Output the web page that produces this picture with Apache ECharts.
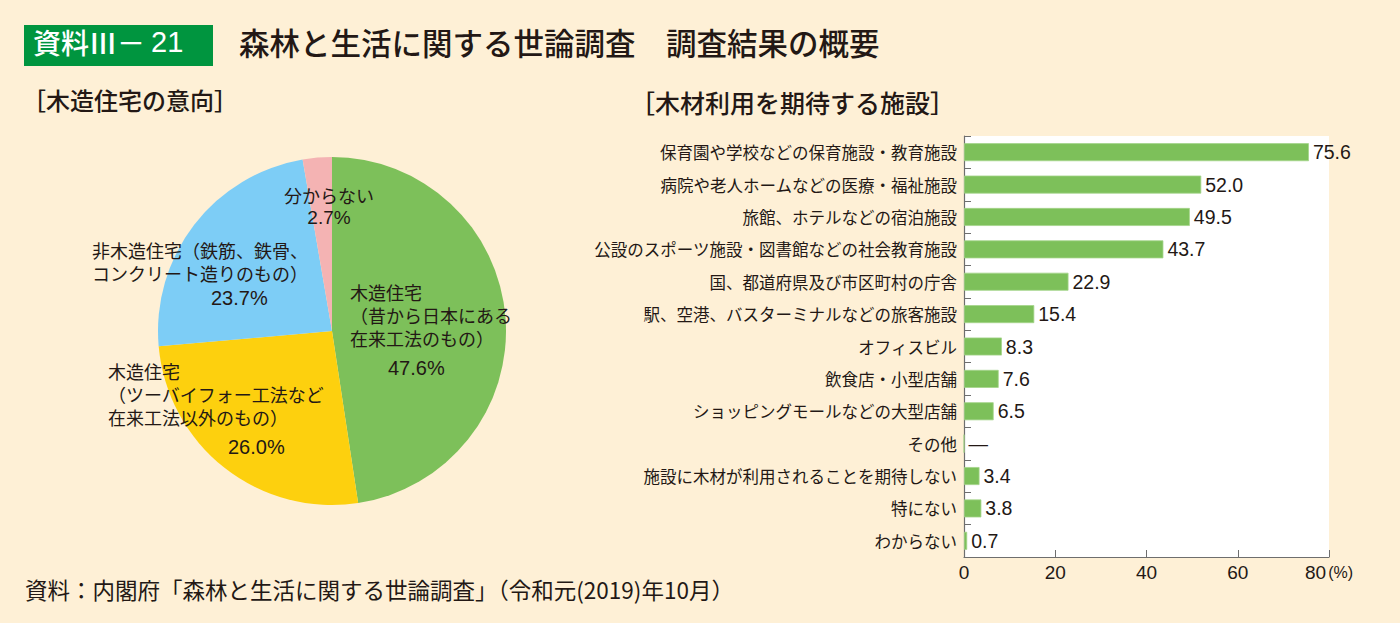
<!DOCTYPE html>
<html>
<head>
<meta charset="utf-8">
<script src="https://cdn.jsdelivr.net/npm/echarts@6/dist/echarts.min.js"></script>
<style>
html,body{margin:0;padding:0;background:#fef0d6;}
#main{width:1400px;height:623px;}
</style>
</head>
<body>
<div id="main"></div>
<script>
// ---- data ----
const pieNames = [
  '木造住宅\n（昔から日本にある\n在来工法のもの）',
  '木造住宅\n（ツーバイフォー工法など\n在来工法以外のもの）',
  '非木造住宅（鉄筋、鉄骨、\nコンクリート造りのもの）',
  '分からない'
];
const pieValues = [47.6, 26.0, 23.7, 2.7];

const barCategories = [
  '保育園や学校などの保育施設・教育施設',
  '病院や老人ホームなどの医療・福祉施設',
  '旅館、ホテルなどの宿泊施設',
  '公設のスポーツ施設・図書館などの社会教育施設',
  '国、都道府県及び市区町村の庁舎',
  '駅、空港、バスターミナルなどの旅客施設',
  'オフィスビル',
  '飲食店・小型店舗',
  'ショッピングモールなどの大型店舗',
  'その他',
  '施設に木材が利用されることを期待しない',
  '特にない',
  'わからない'
];
const barValues = [75.6, 52.0, 49.5, 43.7, 22.9, 15.4, 8.3, 7.6, 6.5, null, 3.4, 3.8, 0.7];
const xTicks = [0, 20, 40, 60, 80];

// ---- styles ----
const JP = "'Noto Sans CJK JP', sans-serif";
const NUM = "'Liberation Sans', Arial, sans-serif";
const TXT = '#231815';
const pieColors = ['#7dc05a', '#fdd00e', '#7dcdf6', '#f4b3b3'];
// label block [x, y(top), align], percent line style
const pieLabelPos = [[350, 280, 'left'], [108, 359, 'left'], [92, 238, 'left'], [329, 183, 'center']];
const pctStyle = [
  {padding: [0, 0, 0, 38], lineHeight: 37},
  {padding: [0, 0, 0, 120], lineHeight: 37},
  {padding: [0, 0, 0, 119], lineHeight: 27},
  {lineHeight: 22, align: 'center'}
];

const chart = echarts.init(document.getElementById('main'), null, {renderer: 'svg'});

const pieData = pieValues.map((v, i) => {
  const nameRich = {fontFamily: JP, fontSize: 18, lineHeight: 23, color: TXT};
  if (i === 3) nameRich.align = 'center';
  const pRich = Object.assign({fontFamily: NUM, fontSize: i === 3 ? 19 : 20, color: TXT}, pctStyle[i]);
  return {
    value: v,
    name: pieNames[i],
    itemStyle: {color: pieColors[i]},
    label: {
      formatter: (p) => p.name.split('\n').map(s => '{n|' + s + '}').join('\n') + '\n{p|' + p.value.toFixed(1) + '%}',
      rich: {n: nameRich, p: pRich}
    }
  };
});

const barData = barValues.map(v => v === null ? {value: 0, label: {formatter: '—'}} : v);

const option = {
  backgroundColor: '#fef0d6',
  animation: false,
  graphic: [
    {type: 'rect', left: 24, top: 25, shape: {width: 189, height: 41}, style: {fill: '#00953f'}},
    {type: 'text', left: 33, top: 27, style: {
      text: '{a|資料Ⅲ－}{b|21}', fill: '#ffffff',
      rich: {a: {fontFamily: JP, fontSize: 28, fontWeight: 500, fill: '#ffffff'}, b: {fontFamily: NUM, fontSize: 29, fill: '#ffffff', padding: [0, 0, 0, 6]}}
    }},
    {type: 'text', left: 239, top: 27, style: {text: '森林と生活に関する世論調査　調査結果の概要', fill: TXT, font: "500 30.5px 'Noto Sans CJK JP', sans-serif"}},
    {type: 'text', left: 22, top: 87, style: {text: '［木造住宅の意向］', fill: TXT, font: "500 24px 'Noto Sans CJK JP', sans-serif"}},
    {type: 'text', left: 630, top: 89, style: {text: '［木材利用を期待する施設］', fill: TXT, font: "500 25px 'Noto Sans CJK JP', sans-serif"}},
    {type: 'text', left: 25, top: 578, style: {text: '資料：内閣府「森林と生活に関する世論調査」（令和元(2019)年10月）', fill: TXT, font: "22.5px 'Noto Sans CJK JP', sans-serif"}}
  ],
  grid: {left: 964, right: 71, top: 136, bottom: 66, show: true, backgroundColor: '#ffffff', borderWidth: 0},
  xAxis: {
    type: 'value', min: 0, max: 80, interval: 20,
    axisLine: {show: true, lineStyle: {color: '#6e6e6e', width: 1.2}},
    axisTick: {show: true, inside: true, length: 7, lineStyle: {color: '#6e6e6e'}},
    splitLine: {show: false},
    axisLabel: {
      margin: 6, fontSize: 19, fontFamily: NUM, color: TXT,
      formatter: (v) => v === xTicks[xTicks.length - 1] ? v + '{u|(%)}' : String(v),
      rich: {u: {fontSize: 16, fontFamily: NUM, color: TXT, padding: [0, 0, 0, 2]}}
    }
  },
  yAxis: {
    type: 'category', inverse: true, data: barCategories,
    axisLine: {show: true, lineStyle: {color: '#6e6e6e', width: 1.2}},
    axisTick: {show: true, inside: true, length: 7, lineStyle: {color: '#6e6e6e'}},
    axisLabel: {margin: 7, fontSize: 16.5, fontFamily: JP, color: TXT}
  },
  series: [
    {
      type: 'bar', data: barData, barWidth: 18,
      itemStyle: {color: '#7dc05a', borderColor: '#a5d48a', borderWidth: 0.8},
      label: {show: true, position: 'right', distance: 4, fontSize: 19.5, fontFamily: NUM, color: TXT,
        formatter: (p) => p.value.toFixed(1)}
    },
    {
      type: 'pie', center: [332, 331], radius: 174, startAngle: 90, clockwise: true,
      data: pieData,
      label: {show: true, position: 'inside'},
      labelLine: {show: false},
      itemStyle: {borderWidth: 0},
      emphasis: {disabled: true},
      labelLayout: (p) => {
        const pos = pieLabelPos[p.dataIndex];
        return {x: pos[0], y: pos[1], align: pos[2], verticalAlign: 'top'};
      }
    }
  ]
};
chart.setOption(option);
</script>
</body>
</html>
